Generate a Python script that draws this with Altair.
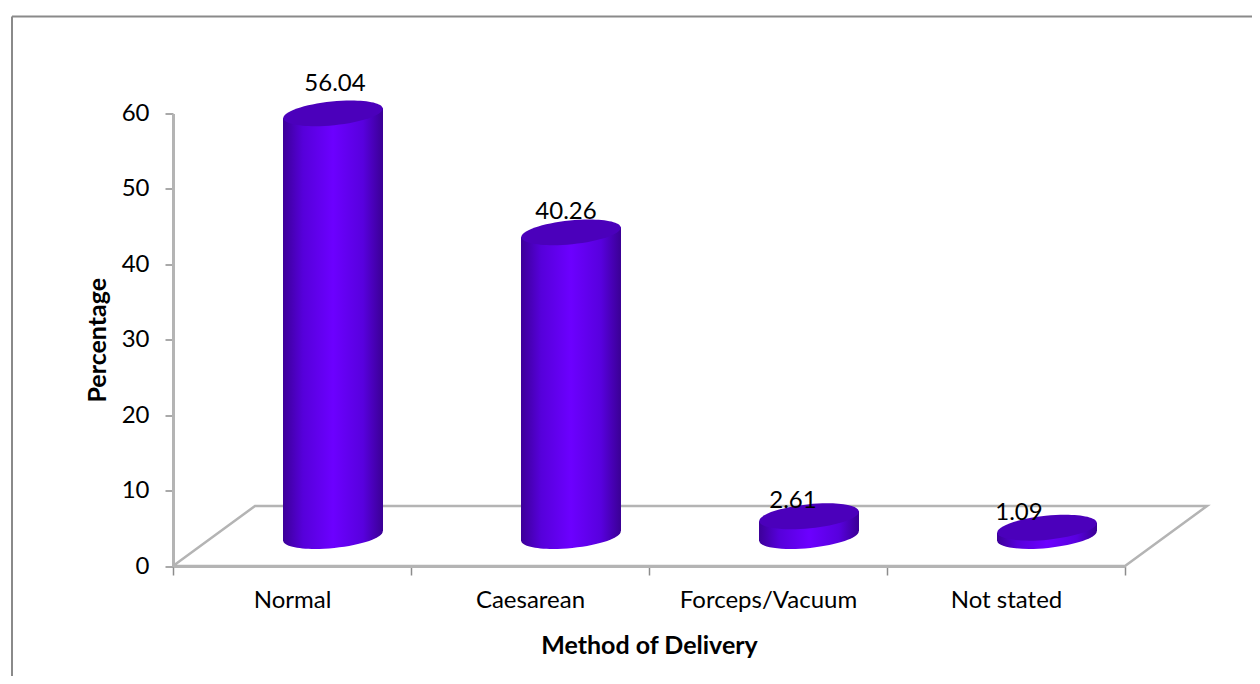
import altair as alt
import pandas as pd

categories = ["Normal", "Caesarean", "Forceps/Vacuum", "Not stated"]
values = [56.04, 40.26, 2.61, 1.09]
value_labels = ["56.04", "40.26", "2.61", "1.09"]

# chart geometry in axis units (not data)
FONT = "Lato"
DEPTH_X = 82 / 238
DEPTH_Y = 60 / 7.54
LIFT = DEPTH_Y / 2
HALF_W = 50 / 238
TILT = 5 / 7.54
GREY = "#b4b4b4"
TICK = "#8c8c8c"
label_nudges = [(2, -29), (-5, -20), (-16, -15), (-28, -15)]

def gradient():
    return alt.Gradient(
        gradient="linear", x1=0, x2=1, y1=0, y2=0,
        stops=[
            alt.GradientStop(offset=0, color="#3c0098"),
            alt.GradientStop(offset=0.2, color="#5600da"),
            alt.GradientStop(offset=0.5, color="#6c00ff"),
            alt.GradientStop(offset=0.8, color="#5800de"),
            alt.GradientStop(offset=1, color="#3a0094"),
        ],
    )

ELLIPSE = "M-0.995,0.1 A1,0.24 -5.7 1 1 0.995,-0.1 A1,0.24 -5.7 1 1 -0.995,0.1 Z"
ELLIPSE_SIZE = 100 ** 2

centers = [i + 0.5 + DEPTH_X / 2 for i in range(len(categories))]
ends = pd.DataFrame({
    "cat": categories,
    "cx": centers,
    "base": [LIFT] * 4,
    "top": [v + LIFT for v in values],
    "label": value_labels,
})
body_rows = []
for c, cx, v in zip(categories, centers, values):
    for sx, t in ((-1, -TILT), (1, TILT)):
        body_rows.append({"cat": c, "x": cx + sx * HALF_W, "y0": LIFT + t, "y1": LIFT + v + t})
bodies = pd.DataFrame(body_rows)
floor = pd.DataFrame({
    "x": [0, DEPTH_X, 4 + DEPTH_X, 4, 0],
    "y": [0, DEPTH_Y, DEPTH_Y, 0, 0],
    "o": [0, 1, 2, 3, 4],
})

xq = alt.Scale(domain=[0, 4], nice=False, zero=False)
yq = alt.Scale(domain=[0, 60], nice=False)
y_axis = alt.Axis(
    values=[0, 10, 20, 30, 40, 50, 60], title="Percentage", grid=False,
    domainColor=GREY, domainWidth=3, tickColor=TICK, tickWidth=1.5, tickSize=8,
    labelFont=FONT, labelFontSize=24, labelColor="#000", labelPadding=16,
    titleFont=FONT, titleFontSize=25, titleFontWeight="bold", titleColor="#000", titlePadding=11,
)

axis_layer = alt.Chart(pd.DataFrame({"cat": categories, "v": values})).mark_bar(opacity=0).encode(
    x=alt.X("cat:N", sort=categories, scale=alt.Scale(paddingInner=0, paddingOuter=0),
            axis=alt.Axis(
                title="Method of Delivery", labelAngle=0, tickBand="extent", grid=False,
                domainColor=GREY, domainWidth=3, tickColor=TICK, tickWidth=1.5, tickSize=9,
                labelFont=FONT, labelFontSize=24, labelColor="#000", labelPadding=13,
                titleFont=FONT, titleFontSize=25, titleFontWeight="bold", titleColor="#000", titlePadding=21,
            )),
    y=alt.Y("v:Q", scale=yq, axis=y_axis),
)

floor_layer = alt.Chart(floor).mark_line(color=GREY, strokeWidth=2.5).encode(
    x=alt.X("x:Q", scale=xq, axis=None),
    y=alt.Y("y:Q", scale=yq),
    order="o:Q",
)
x_q = alt.X("cx:Q", scale=xq, axis=None)
bottom = alt.Chart(ends).mark_point(shape=ELLIPSE, filled=True, opacity=1, size=ELLIPSE_SIZE, fill=gradient(), strokeWidth=0).encode(
    x=x_q, y=alt.Y("base:Q", scale=yq))
body = alt.Chart(bodies).mark_area(color=gradient(), opacity=1).encode(
    x=alt.X("x:Q", scale=xq, axis=None),
    y=alt.Y("y0:Q", scale=yq),
    y2="y1:Q",
    detail="cat:N",
)
top = alt.Chart(ends).mark_point(shape=ELLIPSE, filled=True, opacity=1, size=ELLIPSE_SIZE, fill="#4b00bb", strokeWidth=0).encode(
    x=x_q, y=alt.Y("top:Q", scale=yq))

texts = []
for i, (dx, dy) in enumerate(label_nudges):
    texts.append(
        alt.Chart(ends.iloc[[i]]).mark_text(font=FONT, fontSize=24, color="#000", dx=dx, dy=dy).encode(
            x=x_q, y=alt.Y("top:Q", scale=yq), text="label:N")
    )

frame = pd.DataFrame({"a": [0]})
left_edge = alt.Chart(frame).mark_rule(color="#8a8a8a", strokeWidth=2).encode(
    x=alt.value(-161), y=alt.value(-97), y2=alt.value(571))
top_edge = alt.Chart(frame).mark_rule(color="#8a8a8a", strokeWidth=2).encode(
    x=alt.value(-161), x2=alt.value(1087), y=alt.value(-97))

chart = alt.layer(
    left_edge, top_edge, axis_layer, floor_layer, bottom, body, top, *texts
).resolve_scale(x="independent").properties(
    width=952, height=452.5,
    autosize=alt.AutoSizeParams(type="none"),
    padding={"left": 165, "top": 105.5, "right": 127, "bottom": 110},
).configure_view(stroke=None)

chart.save("out.html", embed_options={"renderer": "svg", "actions": False})
